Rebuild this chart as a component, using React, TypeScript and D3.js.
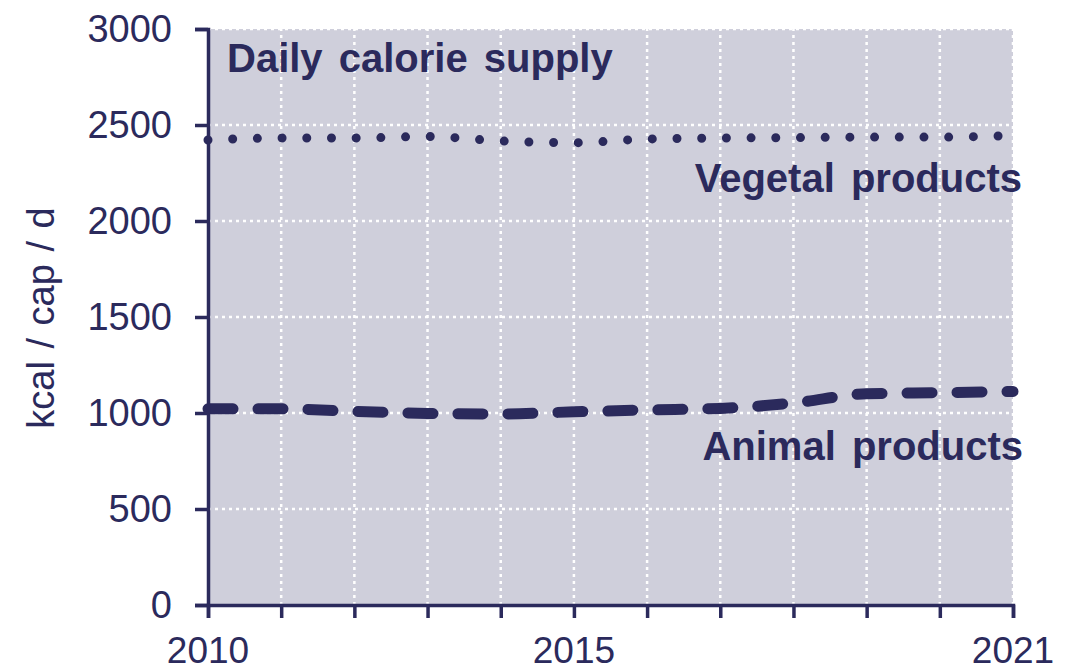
import React, { useRef, useEffect } from 'react';
import * as d3 from 'd3';

const years = [2010, 2011, 2012, 2013, 2014, 2015, 2016, 2017, 2018, 2019, 2020, 2021];
const vegetal = [2422, 2432, 2432, 2440, 2417, 2408, 2427, 2432, 2434, 2437, 2437, 2445];
const animal = [1022, 1022, 1008, 998, 995, 1006, 1016, 1024, 1052, 1100, 1106, 1112];
const yTicks = [0, 500, 1000, 1500, 2000, 2500, 3000];
const xLabels = [2010, 2015, 2021];

function App() {
  const svgRef = useRef<SVGSVGElement>(null);

  useEffect(() => {
    const svg = d3.select(svgRef.current);
    svg.selectAll("*").remove();

    const width = 1081;
    const height = 671;
    const margin = { top: 29, right: 68, bottom: 66, left: 208 };
    const dark = "#2b2a5c";
    const font = "'Liberation Sans', Arial, sans-serif";

    const x = d3.scaleLinear()
      .domain([2010, 2021])
      .range([margin.left, width - margin.right]);

    const y = d3.scaleLinear()
      .domain([0, 3000])
      .range([height - margin.bottom, margin.top]);

    svg.attr("width", width).attr("height", height);

    // Plot background
    svg.append("rect")
      .attr("x", x(2010))
      .attr("y", y(3000))
      .attr("width", x(2021) - x(2010))
      .attr("height", y(0) - y(3000))
      .attr("fill", "#cfcfdb");

    // Grid
    svg.append("g")
      .selectAll("line")
      .data(yTicks.slice(1))
      .enter()
      .append("line")
      .attr("x1", x(2010))
      .attr("x2", x(2021))
      .attr("y1", d => y(d))
      .attr("y2", d => y(d))
      .attr("stroke", "#fff")
      .attr("stroke-width", 2.5)
      .attr("stroke-dasharray", "3,4");

    svg.append("g")
      .selectAll("line")
      .data(years.slice(1))
      .enter()
      .append("line")
      .attr("x1", d => x(d))
      .attr("x2", d => x(d))
      .attr("y1", y(0))
      .attr("y2", y(3000))
      .attr("stroke", "#fff")
      .attr("stroke-width", 2.5)
      .attr("stroke-dasharray", "3,4");

    // Lines
    const line = d3.line<number>()
      .x((d, i) => x(years[i]))
      .y(d => y(d))
      .curve(d3.curveMonotoneX);

    svg.append("path")
      .datum(vegetal)
      .attr("d", line)
      .attr("fill", "none")
      .attr("stroke", dark)
      .attr("stroke-width", 9)
      .attr("stroke-linecap", "round")
      .attr("stroke-dasharray", "0,24.7");

    svg.append("path")
      .datum(animal)
      .attr("d", line)
      .attr("fill", "none")
      .attr("stroke", dark)
      .attr("stroke-width", 11)
      .attr("stroke-linecap", "round")
      .attr("stroke-dasharray", "25,25");

    // Axes
    const yAxis = svg.append("g")
      .attr("transform", `translate(${margin.left}, 0)`)
      .call(d3.axisLeft(y).tickValues(yTicks).tickSize(13).tickPadding(23).tickFormat(d3.format("d")));
    yAxis.select(".domain").attr("stroke", dark).attr("stroke-width", 3.5);
    yAxis.selectAll(".tick line").attr("stroke", dark).attr("stroke-width", 3.5);
    yAxis.selectAll(".tick text")
      .attr("fill", dark)
      .style("font-family", font)
      .style("font-size", "38px");

    const xAxis = svg.append("g")
      .attr("transform", `translate(0, ${height - margin.bottom})`)
      .call(d3.axisBottom(x).tickValues(years).tickSize(13).tickFormat(() => ""));
    xAxis.select(".domain").attr("stroke", dark).attr("stroke-width", 3.5);
    xAxis.selectAll(".tick line").attr("stroke", dark).attr("stroke-width", 3.5);

    svg.append("g")
      .selectAll("text")
      .data(xLabels)
      .enter()
      .append("text")
      .attr("x", d => x(d))
      .attr("y", 663)
      .attr("text-anchor", "middle")
      .attr("fill", dark)
      .style("font-family", font)
      .style("font-size", "37px")
      .text(d => d);

    // Axis title
    svg.append("text")
      .attr("transform", "translate(54, 318) rotate(-90)")
      .attr("text-anchor", "middle")
      .attr("fill", dark)
      .style("font-family", font)
      .style("font-size", "38px")
      .style("word-spacing", "2px")
      .text("kcal / cap / d");

    // Labels
    const labels = [
      { text: "Daily calorie supply", x: 227, y: 72, anchor: "start" },
      { text: "Vegetal products", x: 1022, y: 192, anchor: "end" },
      { text: "Animal products", x: 1023, y: 460, anchor: "end" },
    ];
    svg.append("g")
      .selectAll("text")
      .data(labels)
      .enter()
      .append("text")
      .attr("x", d => d.x)
      .attr("y", d => d.y)
      .attr("text-anchor", d => d.anchor)
      .attr("fill", dark)
      .style("font-family", font)
      .style("font-size", "40px")
      .style("font-weight", "bold")
      .style("word-spacing", "5px")
      .text(d => d.text);
  }, []);

  return <svg ref={svgRef} style={{ position: "absolute", left: 0, top: 0 }}></svg>;
}

export default App;
